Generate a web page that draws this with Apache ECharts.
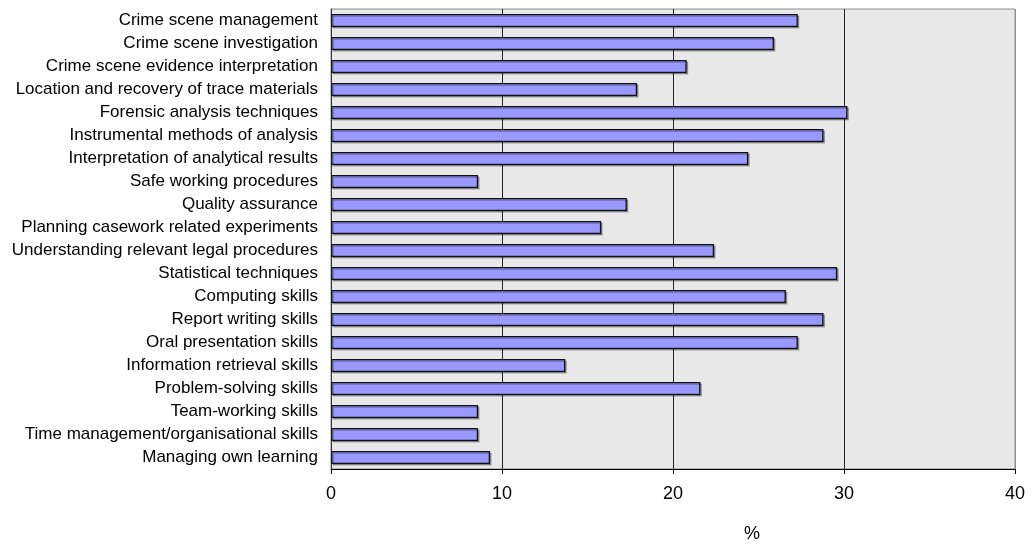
<!DOCTYPE html>
<html>
<head>
<meta charset="utf-8">
<script src="https://cdn.jsdelivr.net/npm/echarts@6/dist/echarts.min.js"></script>
<style>
  html, body { margin: 0; padding: 0; background: #fff; }
  #chart { width: 1034px; height: 545px; }
</style>
</head>
<body>
<div id="chart"></div>
<script>
// skill categories, top to bottom as in the picture
var skills = [
	'Crime scene management',
	'Crime scene investigation',
	'Crime scene evidence interpretation',
	'Location and recovery of trace materials',
	'Forensic analysis techniques',
	'Instrumental methods of analysis',
	'Interpretation of analytical results',
	'Safe working procedures',
	'Quality assurance',
	'Planning casework related experiments',
	'Understanding relevant legal procedures',
	'Statistical techniques',
	'Computing skills',
	'Report writing skills',
	'Oral presentation skills',
	'Information retrieval skills',
	'Problem-solving skills',
	'Team-working skills',
	'Time management/organisational skills',
	'Managing own learning'
];
// percent values
var percents = [27.3, 25.9, 20.8, 17.9, 30.2, 28.8, 24.4, 8.6, 17.3, 15.8,
	22.4, 29.6, 26.6, 28.8, 27.3, 13.7, 21.6, 8.6, 8.6, 9.3];
var xTicks = [0, 10, 20, 30, 40];
var axisUnit = '%';

var chart = echarts.init(document.getElementById('chart'));
var option = {
	animation: false,
	textStyle: { fontFamily: 'Liberation Sans, Arial, sans-serif' },
	title: {
		text: axisUnit,
		left: 739,
		top: 520,
		textStyle: { fontSize: 18, fontWeight: 'normal', color: '#000' }
	},
	grid: {
		left: 331,
		right: 19,
		top: 9,
		bottom: 76,
		show: true,
		backgroundColor: '#e8e8e8',
		borderColor: '#8c8c8c',
		borderWidth: 1
	},
	xAxis: {
		type: 'value',
		min: xTicks[0],
		max: xTicks[xTicks.length - 1],
		interval: 10,
		axisLine: { show: true, lineStyle: { color: '#000', width: 1 } },
		axisTick: { show: true, length: 5, lineStyle: { color: '#000' } },
		axisLabel: { color: '#000', fontSize: 18, margin: 16 },
		splitLine: {
			show: true,
			lineStyle: { color: ['#222', '#222', '#222', '#222', '#8c8c8c'], width: 1 }
		}
	},
	yAxis: {
		type: 'category',
		data: skills,
		inverse: true,
		axisLine: { show: true, lineStyle: { color: '#333' } },
		axisTick: { show: false },
		axisLabel: { color: '#000', fontSize: 17, margin: 13 }
	},
	series: [{
		name: axisUnit,
		type: 'bar',
		data: percents,
		barCategoryGap: '43%',
		itemStyle: {
			color: '#9999ff',
			borderColor: '#111',
			borderWidth: 1.3,
			shadowColor: 'rgba(0,0,0,0.3)',
			shadowOffsetX: 1.5,
			shadowOffsetY: 1.5,
			shadowBlur: 0
		}
	}]
};
chart.setOption(option);
</script>
</body>
</html>
